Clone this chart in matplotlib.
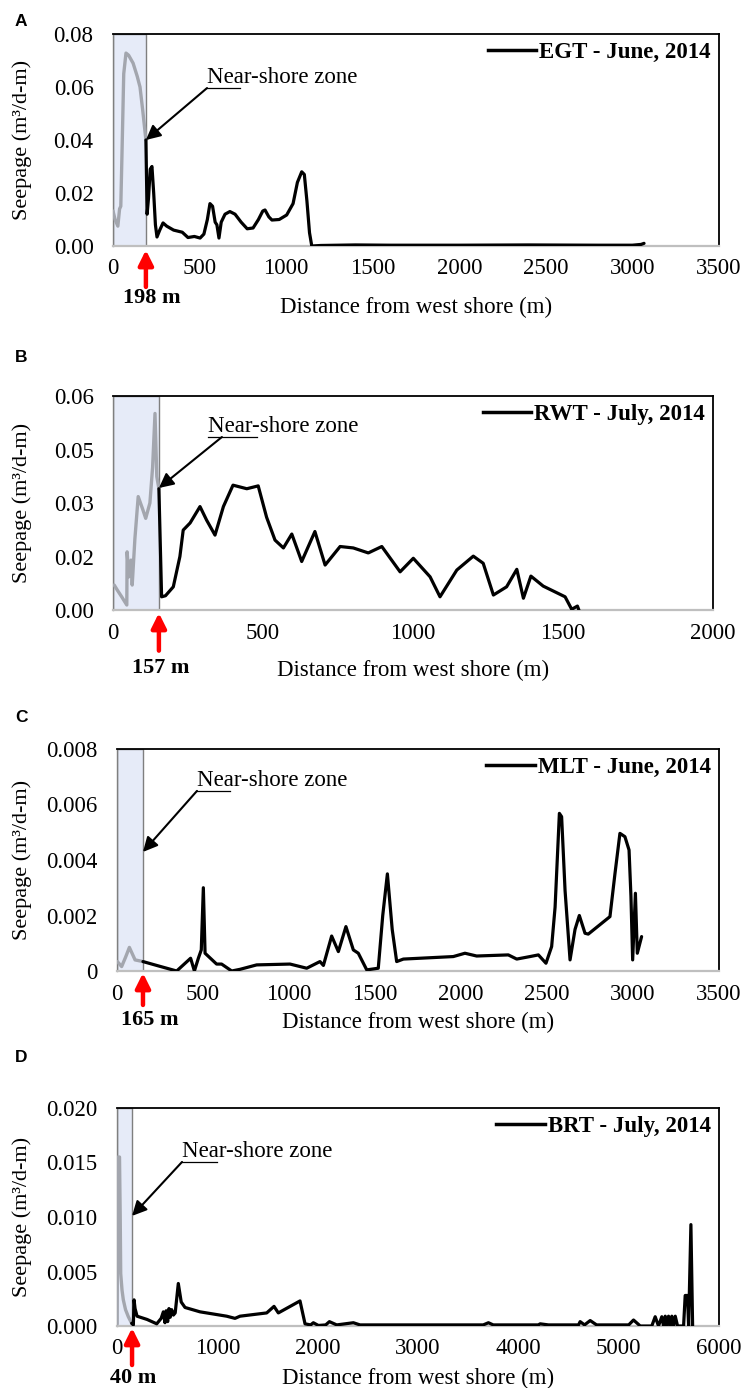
import matplotlib
matplotlib.use("Agg")
import matplotlib.pyplot as plt
from matplotlib.lines import Line2D
from matplotlib.font_manager import FontProperties

plt.rcParams['font.family'] = ['Liberation Serif', 'DejaVu Serif']

# ---------------- data ----------------
# Panel A: EGT - June, 2014
a_near_x = [0, 12, 28, 38, 45, 52, 62, 75, 90, 116, 140, 156, 172, 190]
a_near_y = [0.0132, 0.010, 0.0075, 0.014, 0.015, 0.035, 0.065, 0.0728, 0.072, 0.069, 0.064, 0.060, 0.051, 0.040]
a_off_x = [190, 197, 205, 215, 225, 235, 245, 254, 270, 289, 310, 350, 400, 433, 470, 503, 525, 545, 560,
           575, 590, 600, 612, 625, 647, 675, 705, 740, 775, 809, 840, 865, 878, 900, 918, 960, 1003, 1040,
           1065, 1090, 1105, 1120, 1135, 1148, 1200, 1400, 1600, 2000, 2400, 2800, 3000, 3050, 3067]
a_off_y = [0.040, 0.012, 0.018, 0.029, 0.030, 0.020, 0.008, 0.0034, 0.006, 0.0087, 0.0075, 0.006, 0.0052,
           0.0032, 0.0036, 0.003, 0.0045, 0.010, 0.016, 0.015, 0.009, 0.008, 0.003, 0.009, 0.012, 0.013,
           0.012, 0.009, 0.0065, 0.0068, 0.010, 0.0132, 0.0136, 0.011, 0.0098, 0.010, 0.0117, 0.016, 0.024,
           0.028, 0.027, 0.017, 0.005, 0.0, 0.0002, 0.0004, 0.0003, 0.0003, 0.0004, 0.0003, 0.0003, 0.0006, 0.001]

# Panel B: RWT - July, 2014
b_near_x = [4, 15, 29, 46, 47, 53, 60, 64, 73, 84, 100, 109, 123, 132, 140, 146, 153]
b_near_y = [0.0070, 0.0055, 0.0037, 0.0014, 0.0163, 0.0093, 0.014, 0.007, 0.020, 0.0318, 0.028, 0.0257,
            0.030, 0.040, 0.0551, 0.0374, 0.034]
b_off_x = [153, 162, 175, 201, 223, 234, 257, 290, 312, 340, 368, 400, 446, 484, 512, 540, 568, 596, 629,
           673, 707, 757, 801, 851, 896, 957, 1001, 1057, 1090, 1146, 1201, 1234, 1268, 1312, 1346, 1368,
           1393, 1434, 1507, 1529, 1548, 1553]
b_off_y = [0.034, 0.0037, 0.004, 0.0065, 0.015, 0.0224, 0.0244, 0.029, 0.0252, 0.021, 0.029, 0.035, 0.034,
           0.0348, 0.026, 0.0196, 0.0174, 0.0213, 0.0136, 0.022, 0.0126, 0.0178, 0.0174, 0.016, 0.0178,
           0.0107, 0.0145, 0.0093, 0.0037, 0.0112, 0.0151, 0.0131, 0.0042, 0.0065, 0.0114, 0.0033, 0.0095,
           0.0067, 0.0037, 0.0002, 0.0011, 0.0]

# Panel C: MLT - June, 2014
c_near_x = [2, 27, 50, 72, 105, 151]
c_near_y = [0.00034, 0.00016, 0.0005, 0.00085, 0.0004, 0.00034]
c_off_x = [151, 231, 347, 428, 450, 473, 490, 502, 512, 579, 608, 667, 715, 812, 1006, 1103, 1180, 1200,
           1248, 1287, 1331, 1374, 1403, 1452, 1519, 1545, 1572, 1600, 1626, 1665, 1955, 2023, 2091, 2275,
           2324, 2401, 2450, 2494, 2527, 2547, 2572, 2585, 2605, 2634, 2663, 2688, 2721, 2740, 2866, 2895,
           2924, 2953, 2977, 2988, 2998, 3014, 3025, 3050]
c_off_y = [0.00034, 0.0002, 0.0, 0.00046, 0.0, 0.00046, 0.00076, 0.003, 0.00064, 0.00025, 0.00025, 0.0,
           0.00006, 0.00022, 0.00025, 0.0001, 0.00034, 0.0002, 0.00126, 0.0007, 0.0016, 0.00076, 0.00064,
           0.00004, 0.0001, 0.0020, 0.0035, 0.0015, 0.00034, 0.00043, 0.00052, 0.00064, 0.00054, 0.00058,
           0.00043, 0.00052, 0.00058, 0.00028, 0.00088, 0.0023, 0.00568, 0.00556, 0.0029, 0.0004, 0.0015,
           0.002, 0.00136, 0.00133, 0.00196, 0.0035, 0.00496, 0.00484, 0.00436, 0.0027, 0.0004, 0.0028,
           0.00064, 0.00124]

# Panel D: BRT - July, 2014
d_near_x = [0, 10, 25, 32, 37, 50, 63, 85, 113, 146]
d_near_y = [0.0002, 0.0155, 0.0155, 0.010, 0.0048, 0.0033, 0.0024, 0.0015, 0.00085, 0.00025]
d_off_x = [146, 163, 170, 180, 200, 300, 396, 440, 462, 478, 490, 505, 518, 530, 545, 562, 580, 611, 640,
           678, 827, 1093, 1176, 1226, 1492, 1565, 1608, 1824, 1874, 1930, 1957, 2007, 2080, 2117, 2190,
           2356, 2422, 3000, 3650, 3702, 3750, 4200, 4217, 4300, 4600, 4616, 4660, 4716, 4780, 5100, 5148,
           5215, 5330, 5364, 5397, 5430, 5447, 5464, 5480, 5497, 5514, 5530, 5547, 5564, 5587, 5647, 5663,
           5686, 5697, 5720, 5737]
d_off_y = [0.00025, 0.0001, 0.0024, 0.0016, 0.0009, 0.0006, 0.0002, 0.0007, 0.0013, 0.0003, 0.0014,
           0.0004, 0.0016, 0.0008, 0.0015, 0.001, 0.0012, 0.0039, 0.0022, 0.0017, 0.0013, 0.0009, 0.0007,
           0.0009, 0.0012, 0.0018, 0.0012, 0.0023, 0.0002, 0.0001, 0.0003, 0.00005, 0.0001, 0.0004, 0.0001,
           0.0003, 0.0001, 0.0001, 0.0001, 0.0003, 0.0001, 0.0001, 0.0002, 0.0001, 0.0001, 0.0004, 0.0001,
           0.0005, 0.0001, 0.0001, 0.00055, 0.0, 0.0, 0.00085, 0.0, 0.00085, 0.0, 0.0009, 0.0, 0.0009, 0.0,
           0.0009, 0.0, 0.0009, 0.0, 0.0, 0.0028, 0.0028, 0.0, 0.0093, 0.0]

panel_letters = ["A", "B", "C", "D"]
legend_labels = ["EGT - June, 2014", "RWT - July, 2014", "MLT - June, 2014", "BRT - July, 2014"]
shore_labels = ["198 m", "157 m", "165 m", "40 m"]
near_shore_end = [190, 153, 151, 150]
x_maxes = [3500, 2000, 3500, 6000]
x_ticks = [[0, 500, 1000, 1500, 2000, 2500, 3000, 3500],
           [0, 500, 1000, 1500, 2000],
           [0, 500, 1000, 1500, 2000, 2500, 3000, 3500],
           [0, 1000, 2000, 3000, 4000, 5000, 6000]]
y_ticks = [[0, 0.02, 0.04, 0.06, 0.08],
           [0, 0.015, 0.03, 0.045, 0.06],
           [0, 0.002, 0.004, 0.006, 0.008],
           [0, 0.005, 0.010, 0.015, 0.020]]
y_ticklabels = [["0.00", "0.02", "0.04", "0.06", "0.08"],
                ["0.00", "0.02", "0.03", "0.05", "0.06"],
                ["0", "0.002", "0.004", "0.006", "0.008"],
                ["0.000", "0.005", "0.010", "0.015", "0.020"]]
near_x = [a_near_x, b_near_x, c_near_x, d_near_x]
near_y = [a_near_y, b_near_y, c_near_y, d_near_y]
off_x = [a_off_x, b_off_x, c_off_x, d_off_x]
off_y = [a_off_y, b_off_y, c_off_y, d_off_y]

# ---------------- layout (pixels) ----------------
W, H = 744, 1388
fig = plt.figure(figsize=(W / 100, H / 100), dpi=100)
FS = 16.5

# left, right, top, bottom in pixels
boxes = [(113, 719, 34, 246), (113, 713, 396, 610), (117, 719, 749, 971), (117, 719, 1108, 1326)]
letter_y = [22, 358, 717, 1058]
xlabel_y = [307, 670, 1022, 1378]
# annotation: (tail x data, tail y data, underline end x data, tip y data)
ann = [(543, 0.0596, 734, 0.040), (363, 0.0485, 480, 0.0342),
       (465, 0.00649, 657, 0.00429), (648, 0.01505, 997, 0.0101)]
ann_line_start = [543, 317, 465, 648]
red_arrow = [(-0.019, -0.193, -0.245, 225), (-0.014, -0.19, -0.27, 160),
             (-0.009, -0.153, -0.22, 192), (-0.009, -0.179, -0.239, 160)]

tick_font = FontProperties(family='Liberation Serif', size=FS)
for i in range(4):
    l, r, t, b = boxes[i]
    ax = fig.add_axes([l / W, 1 - b / H, (r - l) / W, (b - t) / H])
    ax.set_xlim(0, x_maxes[i])
    ax.set_ylim(0, y_ticks[i][-1])
    ax.axvspan(0, near_shore_end[i], facecolor='#E6EBF8', edgecolor='#7F7F7F', lw=1.0, zorder=1)
    ax.plot(near_x[i], near_y[i], color='#A3A6AE', lw=2.4, solid_joinstyle='round',
            solid_capstyle='round', zorder=3)
    ax.plot(off_x[i], off_y[i], color='black', lw=2.3, solid_joinstyle='round',
            solid_capstyle='round', zorder=4)

    ax.set_xticks(x_ticks[i])
    ax.set_xticklabels([str(v) for v in x_ticks[i]], fontproperties=tick_font)
    ax.set_yticks(y_ticks[i])
    ax.set_yticklabels(y_ticklabels[i], fontproperties=tick_font)
    ax.tick_params(axis='both', length=0)
    ax.tick_params(axis='y', pad=14)
    ax.tick_params(axis='x', pad=9)

    for s in ['top', 'right']:
        ax.spines[s].set_color('black')
        ax.spines[s].set_linewidth(1.3)
    ax.spines['bottom'].set_color('#BFBFBF')
    ax.spines['bottom'].set_linewidth(1.6)
    ax.spines['left'].set_color('#7F7F7F')
    ax.spines['left'].set_linewidth(1.0)

    ax.legend(handles=[Line2D([0], [0], color='black', lw=2.5)], labels=[legend_labels[i]],
              loc='upper right', frameon=False, handlelength=2.1, handletextpad=0.15,
              borderaxespad=0.2, borderpad=0.15,
              prop=FontProperties(family='Liberation Serif', weight='bold', size=FS))

    # near-shore annotation
    tx, ty, ux, tipy = ann[i]
    ax.annotate('', xy=(near_shore_end[i], tipy), xytext=(tx, ty),
                arrowprops=dict(arrowstyle='-|>', color='black', lw=1.5, mutation_scale=22,
                                shrinkA=0, shrinkB=0), zorder=6)
    ax.plot([ann_line_start[i], ux], [ty, ty], color='black', lw=0.9, zorder=6)
    ax.text(ann_line_start[i], ty, 'Near-shore zone', ha='left', va='bottom',
            fontsize=FS, family='Liberation Serif', zorder=6)

    # red arrow marking near-shore boundary
    tip, tail, lab, labx = red_arrow[i]
    trans = ax.get_xaxis_transform()
    ax.annotate('', xy=(near_shore_end[i], tip), xytext=(near_shore_end[i], tail),
                xycoords=trans, textcoords=trans,
                arrowprops=dict(arrowstyle='-|>', color='#FF0000', lw=3.2, mutation_scale=22,
                                shrinkA=0, shrinkB=0), annotation_clip=False)
    ax.text(labx, lab, shore_labels[i], transform=trans, ha='center', va='center',
            fontsize=16, fontweight='bold', family='Liberation Serif')

    fig.text(22 / W, 1 - ((t + b) / 2) / H, 'Seepage (m³/d-m)', rotation=90, ha='center', va='center',
             fontsize=16, family='Liberation Serif')
    fig.text(((l + r) / 2) / W, 1 - xlabel_y[i] / H, 'Distance from west shore (m)', ha='center',
             va='center', fontsize=FS, family='Liberation Serif')
    fig.text(21 / W, 1 - letter_y[i] / H, panel_letters[i], ha='center', va='center', fontsize=12.5,
             fontweight='bold', family='Liberation Sans')

fig.savefig('out.png', dpi=100)
